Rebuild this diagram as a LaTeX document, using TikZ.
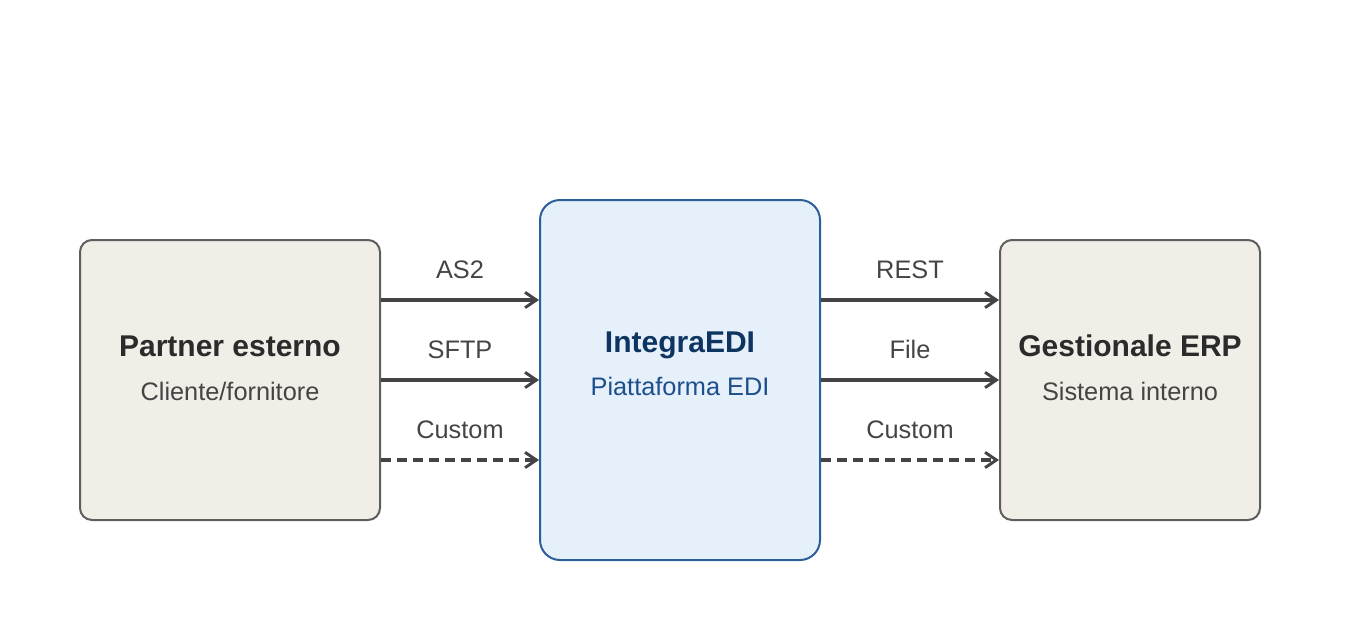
\documentclass[tikz,border=0pt]{standalone}
\usepackage{fontspec}
\setmainfont{Liberation Sans}
\usepackage{tikz}
\usetikzlibrary{arrows.meta}
\definecolor{sandfill}{HTML}{F1EEE8}
\definecolor{sandline}{HTML}{5E5E5E}
\definecolor{edifill}{HTML}{E6F0FA}
\definecolor{ediline}{HTML}{2B5F9A}
\definecolor{edititle}{HTML}{0E3461}
\definecolor{edisub}{HTML}{1C4F8C}
\definecolor{darktext}{HTML}{2B2B2B}
\definecolor{greytext}{HTML}{444444}
\tikzstyle{system}=[
        draw=sandline,
        fill=sandfill,
        line width=1.5pt,
        rounded corners=9pt
]
\tikzstyle{platform}=[
        draw=ediline,
        fill=edifill,
        line width=1.5pt,
        rounded corners=15pt
]
\tikzstyle{title}=[
        anchor=base,
        inner sep=0pt,
        font=\fontsize{22.5pt}{26pt}\selectfont\bfseries
]
\tikzstyle{subtitle}=[
        anchor=base,
        inner sep=0pt,
        font=\fontsize{19pt}{22pt}\selectfont
]
\tikzstyle{channel}=[
        draw=greytext,
        line width=2.3pt,
        -{Straight Barb[length=8.5pt,width=11.5pt,line width=2.2pt]}
]
\tikzstyle{custom}=[
        channel,
        dash pattern=on 7.5pt off 4.5pt
]
\tikzstyle{chlabel}=[
        inner sep=0pt,
        text=greytext,
        font=\fontsize{19pt}{22pt}\selectfont
]

\begin{document}
\begin{tikzpicture}[x=0.75pt,y=-0.75pt]
                        \useasboundingbox (0,0) rectangle (1360,640);

                        % the three systems
                        \node[system, minimum width=300*0.75pt, minimum height=280*0.75pt] (partner) at (230,380) {};
                        \node[platform, minimum width=280*0.75pt, minimum height=360*0.75pt] (edi) at (680,380) {};
                        \node[system, minimum width=260*0.75pt, minimum height=280*0.75pt] (erp) at (1130,380) {};

                        \node[title, text=darktext] (partnertitle) at (230,356) {Partner esterno};
                        \node[subtitle, text=greytext] (partnersub) at (230,400) {Cliente/fornitore};
                        \node[title, text=edititle] (edititle) at (680,352) {IntegraEDI};
                        \node[subtitle, text=edisub] (edisub) at (680,395) {Piattaforma EDI};
                        \node[title, text=darktext] (erptitle) at (1130,356) {Gestionale ERP};
                        \node[subtitle, text=greytext] (erpsub) at (1130,400) {Sistema interno};

                        % partner -> platform
                        \draw[channel] (partner.east |- 0,300) -- node[chlabel, above=15pt] (as2) {AS2} (edi.west |- 0,300);
                        \draw[channel] (partner.east |- 0,380) -- node[chlabel, above=15pt] (sftp) {SFTP} (edi.west |- 0,380);
                        \draw[custom] (partner.east |- 0,460) -- node[chlabel, above=15pt] (custin) {Custom} (edi.west |- 0,460);

                        % platform -> erp
                        \draw[channel] (edi.east |- 0,300) -- node[chlabel, above=15pt] (rest) {REST} (erp.west |- 0,300);
                        \draw[channel] (edi.east |- 0,380) -- node[chlabel, above=15pt] (file) {File} (erp.west |- 0,380);
                        \draw[custom] (edi.east |- 0,460) -- node[chlabel, above=15pt] (custout) {Custom} (erp.west |- 0,460);

                    \end{tikzpicture}
\end{document}
